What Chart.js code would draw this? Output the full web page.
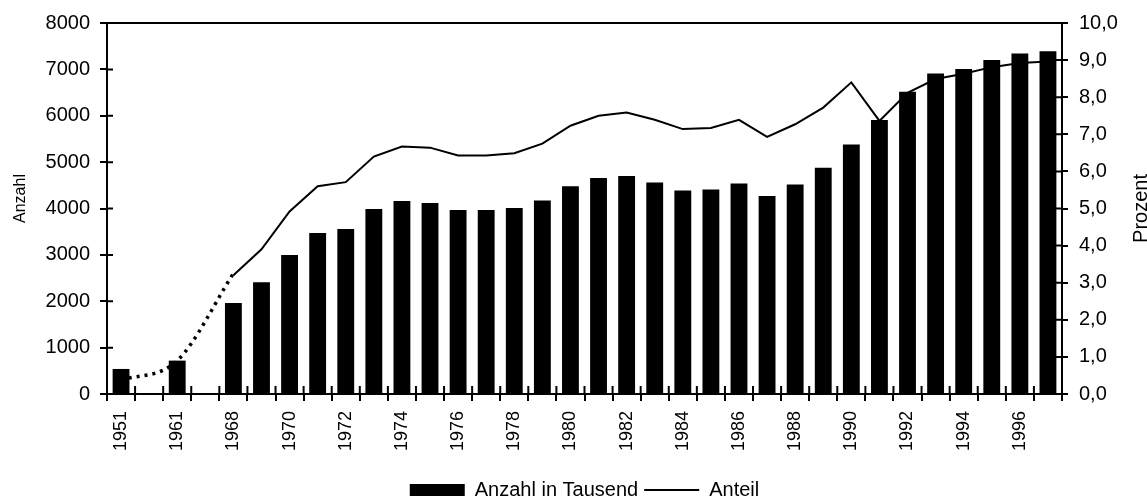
<!DOCTYPE html>
<html>
<head>
<meta charset="utf-8">
<script src="https://cdn.jsdelivr.net/npm/chart.js@4"></script>
<style>
  html, body { margin: 0; padding: 0; background: #fff; }
  #wrap { width: 1147px; height: 504px; }
</style>
</head>
<body>
<div id="wrap"><canvas id="chart" width="1147" height="504"></canvas></div>
<script>
const years = ["1951", "", "1961", "", "1968", "1969", "1970", "1971", "1972", "1973", "1974",
    "1975", "1976", "1977", "1978", "1979", "1980", "1981", "1982", "1983", "1984", "1985",
    "1986", "1987", "1988", "1989", "1990", "1991", "1992", "1993", "1994", "1995", "1996", "1997"];

// Anzahl in Tausend (left axis)
const anzahl = [540, null, 720, null, 1960, 2410, 3000, 3470, 3560, 3990, 4160,
    4120, 3970, 3970, 4010, 4170, 4480, 4660, 4700, 4560, 4390, 4410,
    4540, 4270, 4520, 4880, 5380, 5910, 6520, 6910, 7010, 7200, 7340, 7390];

// Anteil in Prozent (right axis), solid part from 1968 on
const anteil = [null, null, null, null, 3.2, 3.9, 4.92, 5.6, 5.71, 6.4, 6.67,
    6.64, 6.43, 6.43, 6.49, 6.75, 7.23, 7.5, 7.59, 7.39, 7.14, 7.17,
    7.39, 6.93, 7.27, 7.72, 8.4, 7.36, 8.12, 8.49, 8.63, 8.81, 8.92, 8.96];

// early years, drawn dotted
const anteilFrueh = [0.37, null, 0.9, null, 3.25];

const FONT = "'Liberation Sans', Arial, sans-serif";

// ticks that cross the axes, top frame line and the axis titles
const framePlugin = {
    id: "frame",
    afterDraw(chart) {
        const { ctx, chartArea } = chart;
        const x = chart.scales.x, y = chart.scales.y, y1 = chart.scales.y1;
        ctx.save();
        ctx.strokeStyle = "#000";
        ctx.lineWidth = 2;
        ctx.beginPath();
        ctx.moveTo(chartArea.left - 1, chartArea.top);
        ctx.lineTo(chartArea.right + 1, chartArea.top);
        const step = x.getPixelForValue(1) - x.getPixelForValue(0);
        for (let i = 0; i <= years.length; i++) {
            const px = x.getPixelForValue(i) - step / 2;
            ctx.moveTo(px, chartArea.bottom);
            ctx.lineTo(px, chartArea.bottom - 8);
        }
        y.ticks.forEach(t => {
            const py = y.getPixelForValue(t.value);
            ctx.moveTo(chartArea.left, py);
            ctx.lineTo(chartArea.left + 6, py);
        });
        y1.ticks.forEach(t => {
            const py = y1.getPixelForValue(t.value);
            ctx.moveTo(chartArea.right, py);
            ctx.lineTo(chartArea.right - 6, py);
        });
        ctx.stroke();

        ctx.fillStyle = "#000";
        ctx.textAlign = "center";
        ctx.textBaseline = "alphabetic";
        ctx.font = "16px " + FONT;
        ctx.translate(25, (chartArea.top + chartArea.bottom) / 2 - 10);
        ctx.rotate(-Math.PI / 2);
        ctx.fillText("Anzahl", 0, 0);
        ctx.setTransform(1, 0, 0, 1, 0, 0);
        ctx.font = "20px " + FONT;
        ctx.translate(1146.5, (chartArea.top + chartArea.bottom) / 2);
        ctx.rotate(-Math.PI / 2);
        ctx.fillText("Prozent", 0, 0);
        ctx.restore();
    }
};

const ctx = document.getElementById("chart").getContext("2d");
new Chart(ctx, {
    type: "bar",
    data: {
        labels: years,
        datasets: [{
            label: "Anzahl in Tausend",
            data: anzahl,
            backgroundColor: "#000",
            borderWidth: 0,
            barPercentage: 0.6,
            categoryPercentage: 1.0,
            yAxisID: "y",
            order: 2
        }, {
            type: "line",
            label: "Anteil",
            data: anteil,
            borderColor: "#000",
            borderWidth: 2,
            pointRadius: 0,
            fill: false,
            tension: 0,
            yAxisID: "y1",
            order: 1
        }, {
            type: "line",
            label: "frueh",
            data: anteilFrueh,
            borderColor: "#000",
            borderWidth: 3.5,
            borderDash: [3, 5],
            borderCapStyle: "butt",
            pointRadius: 0,
            fill: false,
            spanGaps: true,
            cubicInterpolationMode: "monotone",
            yAxisID: "y1",
            order: 1
        }]
    },
    options: {
        responsive: false,
        animation: false,
        events: [],
        layout: { padding: { top: 19, left: 0, right: 0, bottom: -6 } },
        plugins: {
            tooltip: { enabled: false },
            legend: {
                position: "bottom",
                fullSize: false,
                labels: {
                    color: "#000",
                    font: { family: FONT, size: 20 },
                    usePointStyle: true,
                    pointStyleWidth: 55,
                    boxHeight: 12,
                    padding: 6,
                    sort: (a, b) => a.datasetIndex - b.datasetIndex,
                    generateLabels: chart => {
                        const items = Chart.defaults.plugins.legend.labels.generateLabels(chart);
                        return items.filter(it => it.datasetIndex !== 2).map(it => ({
                            ...it,
                            pointStyle: it.datasetIndex === 0 ? "rect" : "line",
                            fillStyle: "#000",
                            strokeStyle: "#000",
                            lineWidth: it.datasetIndex === 0 ? 0 : 2,
                            lineDash: []
                        }));
                    }
                }
            }
        },
        scales: {
            x: {
                offset: true,
                grid: {
                    offset: true,
                    drawOnChartArea: false,
                    color: "#000",
                    lineWidth: 2,
                    tickLength: 7
                },
                border: { color: "#000", width: 2 },
                ticks: {
                    autoSkip: false,
                    maxRotation: 90,
                    minRotation: 90,
                    padding: 10,
                    color: "#000",
                    font: { family: FONT, size: 18 },
                    callback: (v, i) => (i % 2 === 0 ? years[i] : "")
                },
                afterFit: s => { s.height = 80; }
            },
            y: {
                position: "left",
                min: 0,
                max: 8000,
                grid: {
                    drawOnChartArea: false,
                    color: "#000",
                    lineWidth: 2,
                    tickLength: 7
                },
                border: { color: "#000", width: 2 },
                ticks: {
                    stepSize: 1000,
                    padding: 10,
                    color: "#000",
                    font: { family: FONT, size: 20 },
                    callback: v => String(v)
                },
                afterFit: s => { s.width = 107; }
            },
            y1: {
                position: "right",
                min: 0,
                max: 10,
                grid: {
                    drawOnChartArea: false,
                    color: "#000",
                    lineWidth: 2,
                    tickLength: 6
                },
                border: { color: "#000", width: 2 },
                ticks: {
                    stepSize: 1,
                    padding: 11,
                    color: "#000",
                    font: { family: FONT, size: 20 },
                    callback: v => v.toFixed(1).replace(".", ",")
                },
                afterFit: s => { s.width = 85; }
            }
        }
    },
    plugins: [framePlugin]
});
</script>
</body>
</html>
